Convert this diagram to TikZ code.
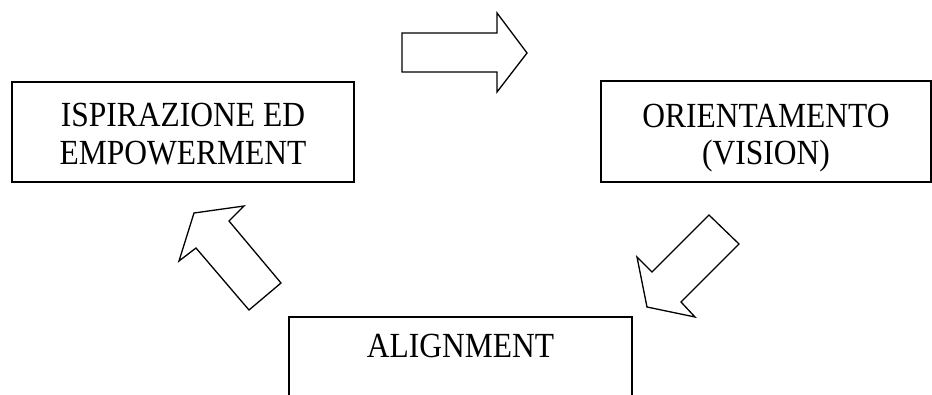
\documentclass[tikz,border=0pt]{standalone}
\usepackage{fontspec}
\setmainfont{Liberation Serif}
\begin{document}
\begin{tikzpicture}[x=1pt,y=-1pt,
  boxline/.style={draw=black,line width=1.6pt},
  arrowshape/.style={draw=black,line width=1.3pt,line join=miter,fill=white},
  lbl/.style={anchor=base,inner sep=0pt,font=\fontsize{31.5}{38}\selectfont}]
\useasboundingbox (0,0) rectangle (932,394);
\clip (0,0) rectangle (932,394);
% boxes
\draw[boxline] (12,82) rectangle (354,182);
\draw[boxline] (601,81) rectangle (931,182);
\draw[boxline] (289,400) -- (289,317) -- (632,317) -- (632,400);
% texts
\node[lbl] (t1a) at (183,126) {\scalebox{1}[1.12]{ISPIRAZIONE ED}};
\node[lbl] (t1b) at (183,164) {\scalebox{1}[1.12]{EMPOWERMENT}};
\node[lbl] (t2a) at (766,127) {\scalebox{1}[1.12]{ORIENTAMENTO}};
\node[lbl] (t2b) at (766,164) {\scalebox{1}[1.12]{(VISION)}};
\node[lbl] (t3) at (460.5,357) {\scalebox{1}[1.12]{ALIGNMENT}};
% arrows
\draw[arrowshape] (402,33) -- (497,33) -- (497,13) -- (527,53) -- (497,92) -- (497,72) -- (402,72) -- cycle;
\draw[arrowshape] (281,283) -- (229,221) -- (244,206) -- (194,213) -- (179,261) -- (196,248) -- (249,310) -- cycle;
\draw[arrowshape] (709,215) -- (739,244) -- (681,302) -- (695,317) -- (647,307) -- (637,257) -- (652,272) -- cycle;
\end{tikzpicture}
\end{document}
